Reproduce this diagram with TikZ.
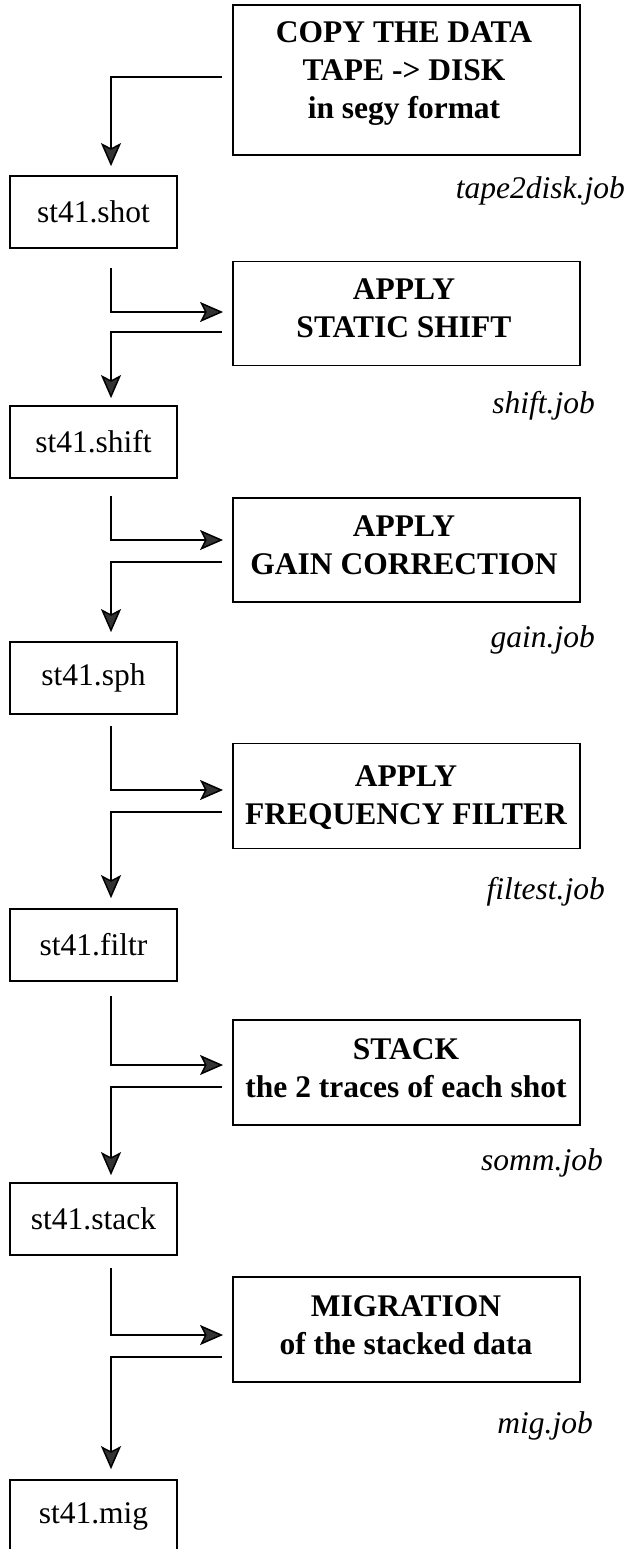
\documentclass[tikz,border=0pt]{standalone}
\usepackage{fontspec}
\setmainfont{Liberation Serif}
\usetikzlibrary{arrows.meta,calc}
\begin{document}
\begin{tikzpicture}[x=1pt,y=-1pt,
  pbox/.style={draw,line width=1.9pt,minimum width=347pt,inner sep=0pt},
  sbox/.style={draw,line width=1.7pt,minimum width=167pt,minimum height=72pt,inner sep=0pt,
    font=\fontsize{31.5}{38}\selectfont},
  ptext/.style={align=center,text depth=0pt,inner sep=0pt,
    font=\fontsize{31.5}{38}\selectfont\bfseries},
  job/.style={inner sep=0pt,anchor=base east,font=\fontsize{31.5}{38}\selectfont\itshape},
  conn/.style={line width=1.5pt,-{Stealth[length=23pt,width=20pt,inset=5pt,fill=black!80]}}]
\useasboundingbox (0,0) rectangle (629,1549);
% process boxes
\node[pbox,minimum height=150pt] (p1) at (406.5,80) {};
\node[pbox,minimum height=104pt] (p2) at (406.5,313.5) {};
\node[pbox,minimum height=104pt] (p3) at (406.5,550) {};
\node[pbox,minimum height=105pt] (p4) at (406.5,796) {};
\node[pbox,minimum height=105pt] (p5) at (406.5,1072.5) {};
\node[pbox,minimum height=105pt] (p6) at (406.5,1329.5) {};
\node[ptext] (p1t) at (404,70.5) {COPY THE DATA\\TAPE -> DISK\\in segy format};
\node[ptext] (p2t) at (404,308) {APPLY\\STATIC SHIFT};
\node[ptext] (p3t) at (404,545) {APPLY\\GAIN CORRECTION};
\node[ptext] (p4t) at (406,795) {APPLY\\FREQUENCY FILTER};
\node[ptext] (p5t) at (406,1068) {STACK\\the 2 traces of each shot};
\node[ptext] (p6t) at (406,1325) {MIGRATION\\of the stacked data};
% data boxes
\node[sbox] (s1) at (93.5,212) {st41.shot};
\node[sbox] (s2) at (93.5,442) {st41.shift};
\node[sbox] (s3) at (93.5,678) {st41.sph};
\node[sbox] (s4) at (93.5,945) {st41.filtr};
\node[sbox] (s5) at (93.5,1219) {st41.stack};
\node[sbox] (s6) at (93.5,1516) {st41.mig};
% job names
\node[job] (j1) at (625,199) {tape2disk.job};
\node[job] (j2) at (595,413) {shift.job};
\node[job] (j3) at (595,647) {gain.job};
\node[job] (j4) at (605,899) {filtest.job};
\node[job] (j5) at (603,1170) {somm.job};
\node[job] (j6) at (593,1433) {mig.job};
% connectors
\draw[conn] ($(p1.west)+(-10,-3)$) -| ($(s1.north)+(17.5,-9)$);
\draw[conn] ($(s1.south)+(17.5,19)$) |- ($(p2.west)+(-9,-1.5)$);
\draw[conn] ($(p2.west)+(-10,18.5)$) -| ($(s2.north)+(17.5,-7)$);
\draw[conn] ($(s2.south)+(17.5,17)$) |- ($(p3.west)+(-9,-10)$);
\draw[conn] ($(p3.west)+(-10,12)$) -| ($(s3.north)+(17.5,-9)$);
\draw[conn] ($(s3.south)+(17.5,11)$) |- ($(p4.west)+(-9,-6)$);
\draw[conn] ($(p4.west)+(-10,16)$) -| ($(s4.north)+(17.5,-10)$);
\draw[conn] ($(s4.south)+(17.5,14)$) |- ($(p5.west)+(-9,-7.5)$);
\draw[conn] ($(p5.west)+(-10,14.5)$) -| ($(s5.north)+(17.5,-7)$);
\draw[conn] ($(s5.south)+(17.5,12)$) |- ($(p6.west)+(-9,5.5)$);
\draw[conn] ($(p6.west)+(-10,27.5)$) -| ($(s6.north)+(17.5,-10)$);
\end{tikzpicture}
\end{document}
